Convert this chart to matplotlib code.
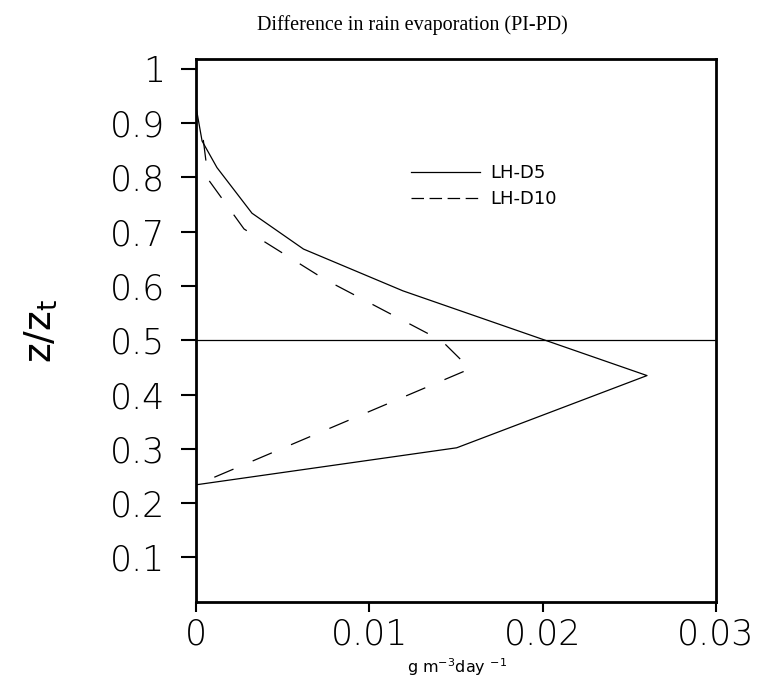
import matplotlib
matplotlib.use("Agg")
import matplotlib.pyplot as plt
from matplotlib.lines import Line2D

# rain evaporation difference profiles (g m-3 day-1) vs normalised height
z_d5 = [0.930, 0.867, 0.818, 0.734, 0.668, 0.591, 0.435, 0.302, 0.234]
evap_d5 = [0.0, 0.00035, 0.00121, 0.00323, 0.0062, 0.01194, 0.02602, 0.01504, 0.00004]

z_d10 = [0.869, 0.796, 0.705, 0.613, 0.499, 0.4475, 0.234]
evap_d10 = [0.00042, 0.00071, 0.00277, 0.00738, 0.01418, 0.01581, 0.00004]

xticks = [0, 0.01, 0.02, 0.03]
xtick_labels = ["0", "0.01", "0.02", "0.03"]
yticks = [0.1, 0.2, 0.3, 0.4, 0.5, 0.6, 0.7, 0.8, 0.9, 1.0]
ytick_labels = ["0.1", "0.2", "0.3", "0.4", "0.5", "0.6", "0.7", "0.8", "0.9", "1"]

plt.rcParams['lines.scale_dashes'] = False

fig = plt.figure(figsize=(7.68, 6.92), dpi=100)
ax = fig.add_axes([196 / 768, 90 / 692, 520 / 768, 543 / 692])

ax.plot(evap_d5, z_d5, color='black', lw=0.9)
ax.plot(evap_d10, z_d10, color='black', lw=0.9, dashes=(15, 15))
ax.axhline(0.5, color='black', lw=0.9)

ax.set_xlim(0, 0.03)
ax.set_ylim(0.018, 1.018)

ax.set_xticks(xticks)
ax.set_xticklabels(xtick_labels)
ax.set_yticks(yticks)
ax.set_yticklabels(ytick_labels)

for s in ax.spines.values():
    s.set_linewidth(2.0)

ax.tick_params(axis='x', direction='out', length=7, width=1.5, pad=4,
               labelsize=25)
ax.tick_params(axis='y', direction='out', length=11, width=1.5, pad=11,
               labelsize=25)
for lab in ax.get_xticklabels() + ax.get_yticklabels():
    lab.set_fontweight('light')

# legend with short dashes like the original
handles = [Line2D([], [], color='black', lw=0.9),
           Line2D([], [], color='black', lw=0.9, dashes=(9, 4))]
ax.legend(handles, ["LH-D5", "LH-D10"], loc='upper left',
          bbox_to_anchor=(0.40, 0.82), frameon=False, fontsize=13,
          handlelength=3.8, handletextpad=0.6, labelspacing=0.45,
          borderaxespad=0)

ax.set_ylabel("z/z$_\\mathregular{t}$", fontsize=27, labelpad=36)

fig.text(412 / 768, 1 - 25 / 692, "Difference in rain evaporation (PI-PD)",
         ha='center', va='center', fontsize=14.5, family='Liberation Serif')
fig.text(457 / 768, 1 - 667 / 692,
         "g m$^{\\mathregular{-3}}$day $^{\\mathregular{-1}}$",
         ha='center', va='center', fontsize=11.5)

fig.savefig("out.png", dpi=100)
